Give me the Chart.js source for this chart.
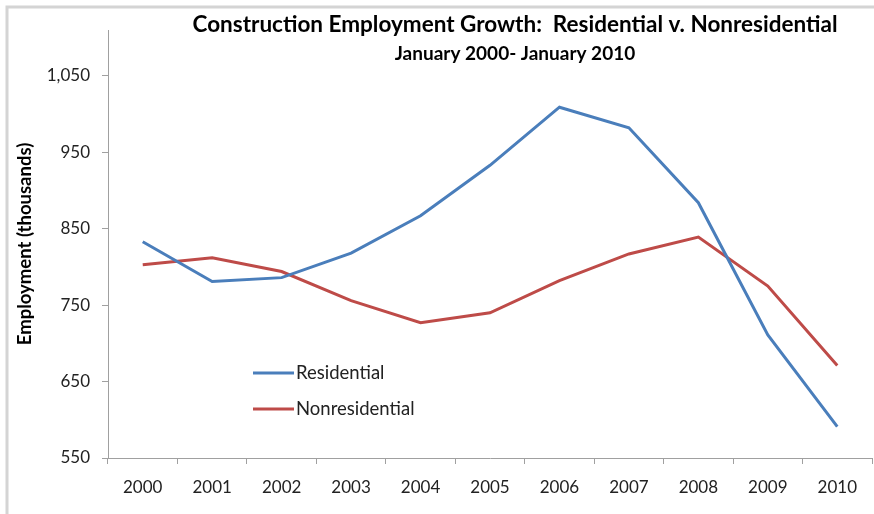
<!DOCTYPE html>
<html lang="en">
  <head>
    <meta charset="UTF-8" />
    <title>Construction Employment Growth</title>
    <script src="https://cdn.jsdelivr.net/npm/chart.js"></script>
    <style>
      html, body { margin: 0; padding: 0; background: #fff; }
      #wrap { width: 874px; height: 514px; position: relative; }
    </style>
  </head>
  <body>
    <div id="wrap"><canvas id="myChart" width="874" height="514"></canvas></div>

    <script>
      // data
      const years = ["2000", "2001", "2002", "2003", "2004", "2005", "2006", "2007", "2008", "2009", "2010"];
      const residential = [833, 781, 786, 818, 867, 933, 1009, 982, 884, 711, 591];
      const nonresidential = [803, 812, 794, 756, 727, 740, 782, 817, 839, 775, 671];
      const yTicks = [550, 650, 750, 850, 950, 1050];

      const FONT = "Lato";

      // titles, rotated axis title, legend and frame
      const decorations = {
        id: "decorations",
        beforeDraw(chart) {
          const c = chart.ctx;
          c.save();
          c.fillStyle = "#fff";
          c.fillRect(0, 0, chart.width, chart.height);
          c.strokeStyle = "#d4d4d4";
          c.lineWidth = 3;
          c.beginPath();
          c.moveTo(7, chart.height);
          c.lineTo(7, 7);
          c.lineTo(chart.width, 7);
          c.stroke();
          c.restore();
        },
        afterDraw(chart) {
          const c = chart.ctx;
          c.save();
          c.fillStyle = "#000";
          c.textAlign = "center";
          c.textBaseline = "middle";
          c.font = "bold 22.5px " + FONT;
          c.fillText("Construction Employment Growth:  Residential v. Nonresidential", 515, 25);
          c.font = "bold 19px " + FONT;
          c.fillText("January 2000- January 2010", 515, 54);

          c.save();
          c.translate(25, 244);
          c.rotate(-Math.PI / 2);
          c.font = "bold 18.5px " + FONT;
          c.fillText("Employment (thousands)", 0, 0);
          c.restore();

          const items = chart.data.datasets;
          items.forEach((ds, i) => {
            const y = 373 + i * 36;
            c.strokeStyle = ds.borderColor;
            c.lineWidth = 3;
            c.beginPath();
            c.moveTo(253, y);
            c.lineTo(294, y);
            c.stroke();
            c.fillStyle = "#222";
            c.textAlign = "left";
            c.font = "18.5px " + FONT;
            c.fillText(ds.label, 296, y);
          });
          c.restore();
        },
      };

      const ctx = document.getElementById("myChart").getContext("2d");

      new Chart(ctx, {
        type: "line",
        data: {
          labels: years,
          datasets: [
            {
              label: "Residential",
              data: residential,
              borderColor: "#4a7ebb",
              borderWidth: 3,
              pointRadius: 0,
              tension: 0,
            },
            {
              label: "Nonresidential",
              data: nonresidential,
              borderColor: "#be4b48",
              borderWidth: 3,
              pointRadius: 0,
              tension: 0,
            },
          ],
        },
        options: {
          responsive: false,
          animation: false,
          events: [],
          layout: { padding: { top: 30, right: 2, left: 0, bottom: 0 } },
          plugins: {
            legend: { display: false },
            title: { display: false },
            tooltip: { enabled: false },
          },
          scales: {
            x: {
              offset: true,
              grid: {
                offset: true,
                drawOnChartArea: false,
                color: "#a0a0a0",
                tickLength: 6,
              },
              border: { color: "#a0a0a0", width: 1 },
              ticks: {
                color: "#222",
                padding: 13,
                maxRotation: 0,
                font: { family: FONT, size: 17 },
              },
              afterFit(scale) {
                scale.height = 56;
              },
            },
            y: {
              min: 550,
              max: 1110,
              afterBuildTicks(scale) {
                scale.ticks = yTicks.map((v) => ({ value: v }));
              },
              grid: {
                drawOnChartArea: false,
                color: "#a0a0a0",
                tickLength: 6,
              },
              border: { color: "#a0a0a0", width: 1 },
              ticks: {
                color: "#222",
                padding: 12,
                font: { family: FONT, size: 17 },
                callback: (v) => v.toLocaleString("en-US"),
              },
              afterFit(scale) {
                scale.width = 108;
              },
            },
          },
        },
        plugins: [decorations],
      });
    </script>
  </body>
</html>
